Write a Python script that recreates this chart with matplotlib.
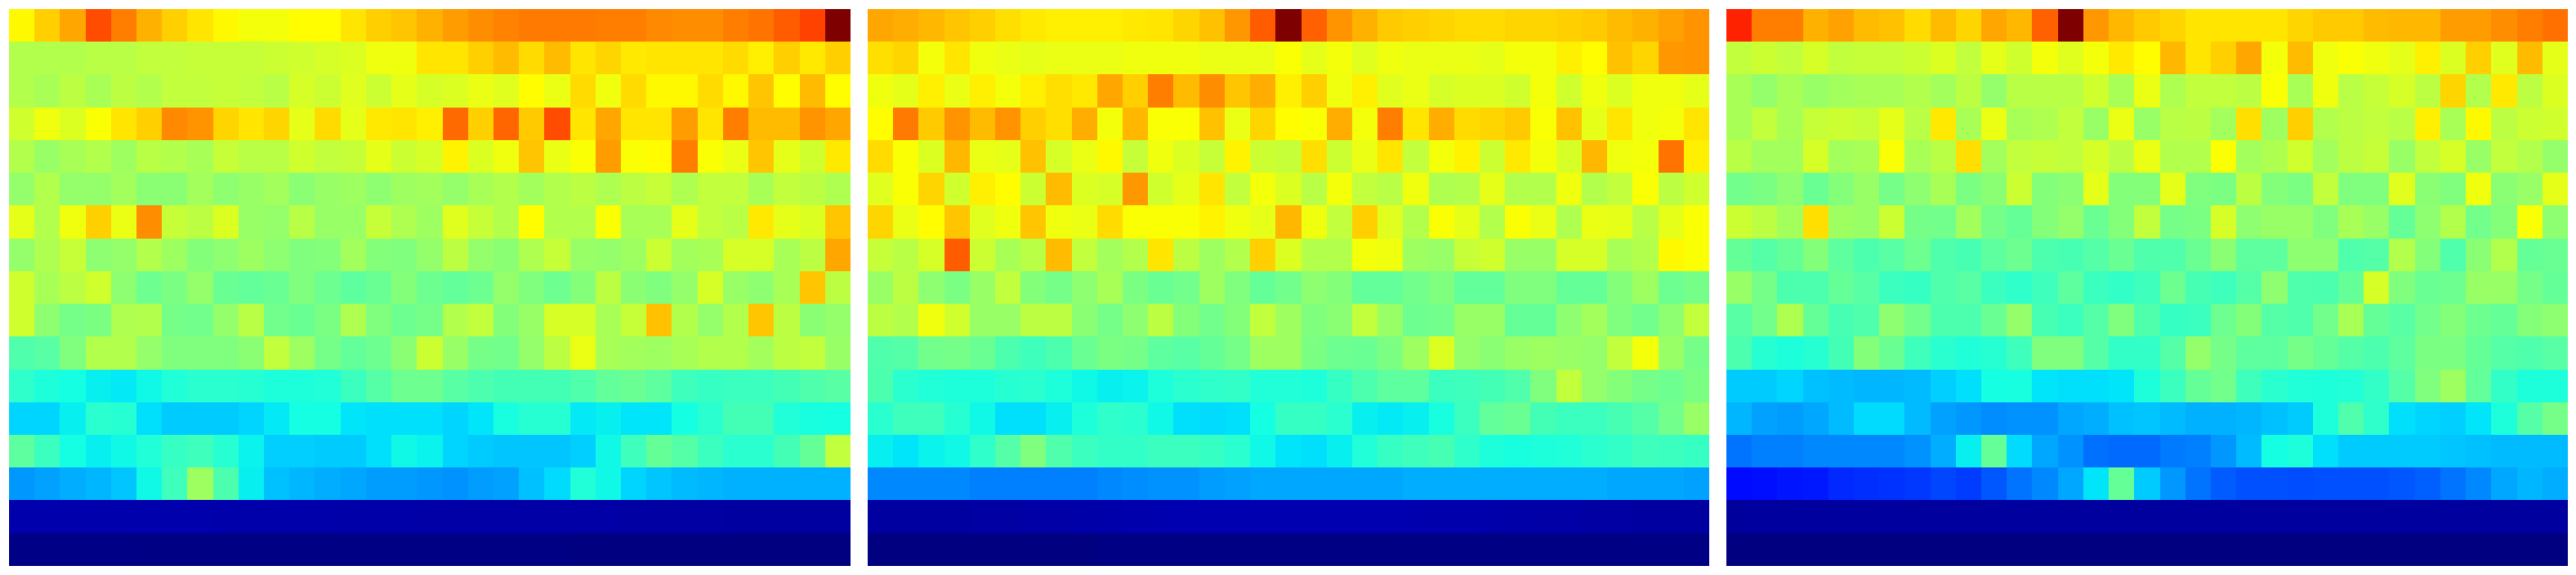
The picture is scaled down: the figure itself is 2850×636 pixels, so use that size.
import numpy as np
import matplotlib
matplotlib.use('Agg')
import matplotlib.pyplot as plt
from matplotlib.colors import LinearSegmentedColormap

# values, top row first
panel_left = [
    [.63,.67,.71,.80,.75,.70,.67,.65,.63,.615,.615,.625,.625,.65,.67,.68,.70,.72,.735,.745,.755,.755,.755,.75,.75,.74,.735,.735,.75,.76,.785,.81,1.0],
    [.55,.55,.55,.555,.555,.565,.565,.57,.57,.57,.575,.58,.585,.59,.61,.61,.65,.65,.67,.69,.66,.69,.65,.665,.645,.65,.65,.65,.66,.64,.67,.645,.67],
    [.55,.54,.56,.54,.56,.55,.565,.565,.57,.565,.555,.585,.575,.595,.575,.60,.585,.59,.605,.595,.625,.605,.66,.61,.66,.63,.63,.66,.63,.68,.625,.69,.625],
    [.58,.61,.59,.62,.65,.67,.74,.73,.665,.65,.665,.60,.66,.60,.645,.65,.64,.77,.67,.775,.675,.80,.65,.71,.65,.65,.72,.65,.75,.69,.69,.73,.71],
    [.55,.525,.54,.55,.53,.555,.55,.54,.57,.555,.555,.58,.565,.57,.60,.575,.585,.635,.59,.61,.68,.605,.62,.72,.62,.625,.75,.62,.605,.68,.60,.58,.645],
    [.52,.55,.52,.52,.535,.51,.51,.535,.515,.525,.535,.51,.525,.53,.515,.53,.535,.52,.54,.55,.535,.55,.56,.545,.56,.57,.545,.565,.565,.54,.565,.56,.545],
    [.60,.55,.61,.67,.605,.735,.57,.56,.59,.525,.52,.555,.525,.525,.57,.545,.53,.595,.57,.55,.625,.55,.55,.62,.54,.54,.60,.565,.555,.645,.60,.59,.68],
    [.52,.545,.57,.515,.52,.55,.53,.505,.515,.53,.515,.50,.505,.535,.505,.50,.52,.56,.52,.51,.545,.57,.525,.52,.53,.575,.535,.54,.585,.585,.54,.56,.71],
    [.58,.54,.56,.58,.515,.48,.495,.52,.475,.465,.475,.50,.48,.46,.475,.505,.48,.465,.48,.52,.50,.48,.505,.56,.51,.50,.52,.585,.525,.515,.54,.68,.56],
    [.58,.515,.49,.495,.545,.55,.49,.485,.52,.555,.485,.475,.495,.545,.50,.48,.49,.55,.565,.505,.525,.585,.585,.54,.57,.685,.55,.52,.55,.68,.56,.51,.52],
    [.445,.455,.50,.55,.55,.52,.50,.50,.50,.51,.565,.53,.49,.465,.48,.51,.575,.525,.49,.485,.52,.56,.605,.54,.535,.53,.54,.55,.55,.535,.56,.565,.525],
    [.405,.385,.375,.36,.355,.37,.39,.40,.40,.395,.385,.385,.39,.42,.45,.48,.48,.455,.44,.43,.43,.43,.445,.465,.475,.46,.425,.415,.42,.42,.43,.445,.455],
    [.335,.335,.36,.40,.395,.345,.325,.325,.325,.335,.355,.375,.375,.35,.345,.345,.345,.335,.35,.38,.395,.395,.355,.36,.35,.35,.375,.40,.43,.43,.39,.38,.375],
    [.46,.42,.375,.36,.37,.39,.415,.425,.395,.365,.33,.33,.325,.325,.345,.37,.365,.335,.325,.32,.32,.32,.33,.37,.425,.47,.45,.42,.40,.40,.43,.47,.565],
    [.275,.285,.295,.305,.32,.37,.425,.53,.44,.36,.315,.305,.295,.29,.28,.28,.275,.27,.28,.285,.315,.34,.39,.37,.335,.32,.31,.305,.30,.30,.30,.30,.30],
    [.04,.04,.04,.04,.04,.04,.04,.04,.038,.038,.038,.038,.038,.036,.036,.036,.034,.034,.034,.034,.034,.034,.034,.034,.032,.032,.032,.032,.03,.03,.03,.03,.03],
    [.006,.006,.006,.006,.006,.004,.004,.004,.004,.004,.004,.004,.004,.004,.004,.004,.004,.004,.004,.004,.004,.004,.002,.002,.002,.002,.002,.002,.002,.002,.002,.002,.002],
]

panel_mid = [
    [.71,.705,.695,.68,.67,.655,.645,.64,.64,.64,.645,.65,.665,.685,.725,.785,1.0,.78,.73,.70,.675,.67,.665,.66,.66,.665,.665,.67,.675,.69,.70,.715,.73],
    [.655,.665,.615,.65,.61,.605,.60,.605,.605,.605,.61,.61,.61,.605,.605,.605,.62,.60,.615,.595,.61,.605,.605,.605,.60,.615,.615,.64,.625,.685,.665,.725,.73],
    [.61,.60,.64,.605,.64,.615,.64,.655,.645,.71,.67,.75,.69,.735,.68,.705,.64,.67,.61,.64,.595,.605,.585,.59,.59,.58,.615,.58,.61,.59,.61,.61,.60],
    [.625,.755,.675,.73,.69,.73,.67,.655,.705,.615,.695,.62,.62,.685,.605,.665,.625,.62,.705,.615,.75,.65,.705,.66,.665,.675,.62,.685,.60,.65,.61,.615,.65],
    [.66,.62,.59,.695,.605,.60,.685,.585,.605,.63,.57,.61,.59,.57,.635,.575,.57,.655,.575,.605,.65,.565,.615,.635,.575,.645,.615,.585,.695,.61,.615,.76,.64],
    [.595,.62,.665,.58,.64,.625,.575,.69,.59,.585,.725,.58,.60,.65,.565,.615,.59,.555,.615,.565,.555,.61,.545,.55,.60,.55,.55,.61,.55,.565,.62,.56,.58],
    [.665,.605,.625,.68,.595,.61,.68,.61,.605,.66,.62,.62,.62,.635,.61,.60,.695,.61,.565,.67,.595,.55,.62,.60,.55,.62,.605,.545,.605,.60,.555,.60,.62],
    [.57,.555,.585,.785,.575,.54,.555,.69,.565,.535,.55,.65,.56,.53,.55,.67,.59,.55,.55,.615,.61,.53,.525,.57,.58,.525,.525,.585,.585,.54,.55,.63,.62],
    [.525,.56,.515,.495,.525,.565,.505,.49,.515,.54,.495,.475,.485,.53,.50,.47,.485,.515,.505,.465,.465,.485,.50,.465,.465,.50,.50,.47,.47,.505,.53,.48,.49],
    [.56,.55,.61,.58,.525,.525,.56,.56,.51,.49,.515,.56,.505,.485,.505,.565,.53,.50,.51,.565,.525,.48,.485,.525,.525,.47,.47,.515,.535,.50,.485,.515,.565],
    [.445,.45,.485,.49,.475,.44,.425,.44,.475,.495,.49,.46,.455,.47,.49,.53,.53,.495,.48,.475,.495,.53,.59,.52,.51,.525,.53,.525,.52,.565,.615,.525,.49],
    [.44,.40,.39,.385,.385,.395,.40,.385,.37,.36,.365,.385,.40,.405,.41,.39,.39,.385,.415,.44,.46,.46,.42,.425,.43,.445,.50,.565,.52,.505,.49,.48,.495],
    [.40,.425,.425,.395,.37,.345,.345,.36,.385,.405,.40,.37,.345,.34,.345,.375,.415,.415,.40,.36,.355,.36,.38,.42,.465,.475,.43,.42,.42,.435,.45,.485,.525],
    [.36,.35,.365,.37,.405,.45,.50,.445,.42,.41,.41,.42,.42,.415,.40,.37,.35,.345,.36,.39,.415,.425,.435,.405,.385,.38,.385,.39,.40,.41,.425,.42,.415],
    [.26,.26,.26,.26,.25,.25,.25,.25,.25,.26,.265,.27,.27,.28,.285,.29,.29,.29,.29,.29,.29,.295,.295,.295,.295,.295,.295,.295,.295,.29,.29,.29,.285],
    [.03,.03,.03,.03,.032,.032,.034,.034,.036,.038,.04,.042,.044,.044,.044,.044,.044,.044,.044,.044,.044,.042,.04,.04,.038,.036,.034,.034,.032,.032,.03,.03,.03],
    [.002,.002,.002,.002,.002,.002,.002,.002,.002,.004,.004,.004,.004,.004,.004,.004,.004,.004,.004,.004,.004,.004,.004,.004,.004,.004,.004,.004,.004,.004,.004,.004,.004],
]

panel_right = [
    [.84,.75,.75,.70,.715,.69,.685,.66,.69,.665,.71,.695,.78,1.0,.725,.695,.675,.665,.65,.65,.65,.65,.665,.675,.675,.69,.695,.695,.72,.72,.735,.75,.765],
    [.565,.575,.565,.585,.565,.57,.57,.575,.59,.565,.60,.58,.615,.595,.615,.645,.625,.695,.65,.67,.71,.615,.69,.61,.62,.61,.60,.64,.59,.67,.595,.69,.60],
    [.54,.52,.54,.525,.535,.54,.54,.55,.535,.56,.52,.555,.555,.555,.58,.54,.605,.545,.565,.565,.56,.62,.54,.61,.555,.57,.585,.56,.665,.55,.645,.56,.59],
    [.54,.565,.54,.57,.575,.57,.60,.555,.645,.54,.605,.54,.545,.565,.525,.605,.525,.555,.56,.535,.655,.53,.67,.55,.56,.565,.555,.64,.54,.63,.56,.575,.58],
    [.555,.535,.535,.585,.535,.54,.62,.54,.555,.655,.535,.565,.57,.565,.585,.56,.605,.55,.55,.62,.535,.545,.58,.535,.56,.57,.525,.565,.585,.525,.565,.55,.52],
    [.485,.495,.515,.475,.505,.525,.49,.515,.54,.495,.51,.575,.505,.51,.60,.505,.505,.60,.50,.495,.56,.505,.495,.565,.50,.50,.595,.51,.50,.61,.51,.525,.60],
    [.575,.56,.535,.655,.53,.525,.575,.49,.485,.535,.49,.47,.505,.52,.475,.505,.565,.49,.495,.585,.515,.525,.525,.50,.54,.525,.47,.515,.55,.485,.505,.62,.515],
    [.47,.45,.47,.505,.46,.44,.455,.48,.445,.435,.46,.48,.44,.435,.45,.475,.445,.445,.475,.51,.46,.46,.515,.515,.445,.45,.55,.505,.445,.51,.55,.47,.475],
    [.525,.49,.44,.44,.47,.455,.42,.415,.445,.455,.42,.405,.425,.46,.42,.41,.425,.48,.435,.425,.45,.515,.445,.44,.47,.585,.50,.475,.48,.525,.525,.49,.47],
    [.455,.485,.545,.47,.435,.445,.515,.485,.44,.44,.475,.52,.435,.42,.45,.50,.445,.415,.42,.48,.505,.45,.445,.485,.54,.47,.455,.485,.505,.48,.47,.505,.515],
    [.44,.395,.385,.395,.43,.505,.475,.425,.40,.39,.395,.425,.50,.50,.45,.41,.41,.45,.52,.49,.46,.46,.49,.47,.45,.44,.46,.495,.495,.47,.45,.445,.455],
    [.325,.325,.335,.315,.31,.305,.305,.31,.33,.345,.375,.38,.35,.345,.345,.35,.385,.42,.47,.485,.425,.40,.39,.385,.39,.41,.45,.50,.53,.465,.41,.385,.385],
    [.305,.285,.28,.29,.31,.34,.34,.31,.285,.275,.265,.27,.27,.29,.295,.315,.32,.31,.30,.30,.305,.315,.325,.385,.445,.405,.345,.335,.33,.35,.385,.45,.49],
    [.24,.25,.25,.26,.26,.26,.26,.27,.295,.36,.47,.34,.29,.27,.235,.23,.23,.245,.25,.275,.31,.375,.385,.345,.325,.325,.325,.325,.32,.315,.31,.31,.31],
    [.135,.14,.145,.15,.165,.17,.175,.18,.195,.185,.21,.24,.26,.29,.35,.47,.325,.275,.24,.215,.205,.205,.20,.205,.205,.205,.21,.22,.24,.26,.29,.305,.295],
    [.026,.028,.028,.028,.028,.028,.028,.028,.028,.028,.028,.028,.028,.028,.028,.028,.028,.028,.028,.028,.028,.028,.028,.028,.028,.028,.028,.028,.028,.028,.028,.028,.028],
    [.002,.002,.002,.002,.002,.002,.002,.002,.002,.002,.002,.002,.002,.002,.002,.002,.002,.002,.002,.002,.002,.002,.002,.002,.002,.002,.002,.002,.002,.002,.002,.002,.002],
]

panels = [panel_left, panel_mid, panel_right]

# jet, with the upper half spaced the way the values above were read
jet_read = LinearSegmentedColormap.from_list('jet_read', [
    (0, (0, 0, .5)), (.11, (0, 0, 1)), (.125, (0, 0, 1)), (.34, (0, .86, 1)),
    (.35, (0, .9, .98)), (.375, (.08, 1, .89)), (.5, (.5, 1, .5)),
    (.625, (1, 1, 0)), (.875, (1, 0, 0)), (1, (.5, 0, 0)),
], N=512)

fig, axes = plt.subplots(1, 3, figsize=(28.5, 6.36), dpi=100)
fig.subplots_adjust(left=10/2850, right=2840/2850, bottom=10/636, top=626/636, wspace=20/930)

for ax, panel in zip(axes, panels):
    ax.imshow(np.array(panel), cmap=jet_read, vmin=0, vmax=1, aspect='auto', interpolation='nearest')
    ax.axis('off')

fig.savefig('out.png', dpi=100)
